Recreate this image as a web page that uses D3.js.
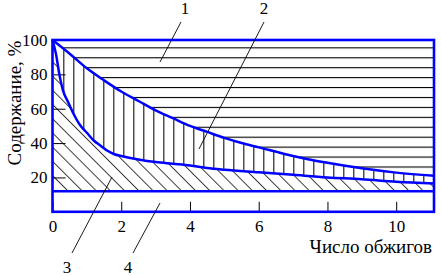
<!DOCTYPE html>
<html>
<head>
<meta charset="utf-8">
<script src="https://cdn.jsdelivr.net/npm/d3@7"></script>
</head>
<body style="margin:0">
<div id="chart"></div>
<script>
// curve 1/2 boundary (upper) and 2/3 boundary (lower)
var upperX = [0, 0.5, 1, 1.5, 2, 2.5, 3, 3.5, 4, 4.5, 5, 5.5, 6, 7, 8, 9, 10, 11.1];
var upperY = [100, 92, 83.5, 76.5, 70, 64.5, 59, 54.5, 50, 46.5, 43, 40, 37.5, 32.5, 28.5, 25.3, 22.8, 21];
var lowerX = [0, 0.1, 0.2, 0.3, 0.45, 0.6, 0.8, 1, 1.2, 1.4, 1.6, 1.8, 2, 2.5, 3, 3.5, 4, 4.5, 5, 6, 7, 8, 9, 10, 11.1];
var lowerY = [100, 92, 80, 71, 64, 57.5, 50.5, 46, 41.5, 38.5, 35.5, 33.5, 32.5, 30.5, 29, 28, 27, 25.5, 24.5, 23, 21.5, 20, 19, 17.5, 16.5];
var baseLevel = 12; // region 4 upper edge
var xTicks = [0, 2, 4, 6, 8, 10];
var yTicks = [20, 40, 60, 80, 100];
var regionLabels = ["1", "2", "3", "4"];

var blue = "#0000ff";
var fontName = "Liberation Serif";

var svg = d3.select("#chart").append("svg")
    .attr("width", 441).attr("height", 276)
    .style("font-family", fontName);

var x = d3.scaleLinear().domain([0, 11.1]).range([52.5, 434]);
var y = d3.scaleLinear().domain([0, 100]).range([211.8, 40]);

var upper = upperX.map(function(d, i) { return [d, upperY[i]]; });
var lower = lowerX.map(function(d, i) { return [d, lowerY[i]]; });

// hatch patterns
var defs = svg.append("defs");
defs.append("pattern").attr("id", "hHatch")
    .attr("patternUnits", "userSpaceOnUse")
    .attr("x", 0).attr("y", 47.3).attr("width", 20).attr("height", 9.93)
    .append("line").attr("x1", 0).attr("x2", 20).attr("y1", 0.5).attr("y2", 0.5)
    .attr("stroke", "#000").attr("stroke-width", 1.2);
defs.append("pattern").attr("id", "vHatch")
    .attr("patternUnits", "userSpaceOnUse")
    .attr("x", 63.3).attr("y", 0).attr("width", 10).attr("height", 20)
    .append("line").attr("x1", 0.5).attr("x2", 0.5).attr("y1", 0).attr("y2", 20)
    .attr("stroke", "#000").attr("stroke-width", 1.1);
defs.append("pattern").attr("id", "dHatch")
    .attr("patternUnits", "userSpaceOnUse")
    .attr("patternTransform", "rotate(-45)")
    .attr("x", 3).attr("y", 0).attr("width", 10.05).attr("height", 20)
    .append("line").attr("x1", 0.5).attr("x2", 0.5).attr("y1", 0).attr("y2", 20)
    .attr("stroke", "#000").attr("stroke-width", 0.8);

var curve = d3.curveMonotoneX;
var curveLine = d3.line().curve(curve)
    .x(function(d) { return x(d[0]); })
    .y(function(d) { return y(d[1]); });

// region 1: above upper curve
svg.append("path")
    .datum(upper)
    .attr("d", d3.area().curve(curve)
        .x(function(d) { return x(d[0]); })
        .y0(y(100))
        .y1(function(d) { return y(d[1]); }))
    .attr("fill", "url(#hHatch)");

// region 2: between curves
var lowerRev = lower.slice().reverse();
svg.append("path")
    .attr("d", curveLine(upper) + "L" + curveLine(lowerRev).slice(1) + "Z")
    .attr("fill", "url(#vHatch)");

// region 3: between lower curve and base level
svg.append("path")
    .datum(lower)
    .attr("d", d3.area().curve(curve)
        .x(function(d) { return x(d[0]); })
        .y0(y(baseLevel))
        .y1(function(d) { return y(d[1]); }))
    .attr("fill", "url(#dHatch)");

// axes with inward ticks
var yAxis = svg.append("g")
    .attr("transform", "translate(" + x(0) + ",0)")
    .call(d3.axisLeft(y).tickValues(yTicks).tickSize(-13).tickPadding(5));
yAxis.attr("font-family", null).attr("font-size", null);
yAxis.select(".domain").remove();
yAxis.selectAll("line").attr("stroke", "#000").attr("stroke-width", 1);
yAxis.selectAll("text").attr("fill", "#000")
    .style("font-family", fontName).style("font-size", "17px");

var xAxis = svg.append("g")
    .attr("transform", "translate(0," + y(0) + ")")
    .call(d3.axisBottom(x).tickValues(xTicks).tickSize(-10).tickPadding(8));
xAxis.attr("font-family", null).attr("font-size", null);
xAxis.select(".domain").remove();
xAxis.selectAll("line").attr("stroke", "#000").attr("stroke-width", 1);
xAxis.selectAll("text").attr("fill", "#000")
    .style("font-family", fontName).style("font-size", "17px");

// blue curves
svg.append("path").datum(upper).attr("d", curveLine)
    .attr("fill", "none").attr("stroke", blue).attr("stroke-width", 2.5);
svg.append("path").datum(lower).attr("d", curveLine)
    .attr("fill", "none").attr("stroke", blue).attr("stroke-width", 2.5);

// blue frame + base level
svg.append("line")
    .attr("x1", x(0)).attr("x2", x(11.1))
    .attr("y1", y(baseLevel)).attr("y2", y(baseLevel))
    .attr("stroke", blue).attr("stroke-width", 2.5);
svg.append("rect")
    .attr("x", x(0)).attr("y", y(100))
    .attr("width", x(11.1) - x(0)).attr("height", y(0) - y(100))
    .attr("fill", "none").attr("stroke", blue).attr("stroke-width", 2.6);

// axis titles
svg.append("text")
    .attr("x", 432).attr("y", 253)
    .attr("text-anchor", "end")
    .style("font-family", fontName).style("font-size", "19px")
    .text("Число обжигов");

svg.append("text")
    .attr("transform", "translate(21,103) rotate(-90)")
    .attr("text-anchor", "middle")
    .style("font-family", fontName).style("font-size", "19px")
    .text("Содержание, %");

// region labels with leader lines
var leaders = [
    { t: regionLabels[0], tx: 185, ty: 14, x1: 181, y1: 22, x2: 160, y2: 62 },
    { t: regionLabels[1], tx: 264, ty: 14, x1: 264, y1: 22, x2: 199, y2: 149 },
    { t: regionLabels[2], tx: 67, ty: 273, x1: 72, y1: 253, x2: 112, y2: 177 },
    { t: regionLabels[3], tx: 128, ty: 273, x1: 133, y1: 253, x2: 160, y2: 203 }
];
svg.selectAll("line.leader")
    .data(leaders)
    .enter().append("line")
    .attr("class", "leader")
    .attr("x1", function(d) { return d.x1; })
    .attr("y1", function(d) { return d.y1; })
    .attr("x2", function(d) { return d.x2; })
    .attr("y2", function(d) { return d.y2; })
    .attr("stroke", "#000").attr("stroke-width", 0.9);
svg.selectAll("text.lab")
    .data(leaders)
    .enter().append("text")
    .attr("class", "lab")
    .attr("x", function(d) { return d.tx; })
    .attr("y", function(d) { return d.ty; })
    .attr("text-anchor", "middle")
    .style("font-family", fontName).style("font-size", "17px")
    .text(function(d) { return d.t; });
</script>
</body>
</html>
